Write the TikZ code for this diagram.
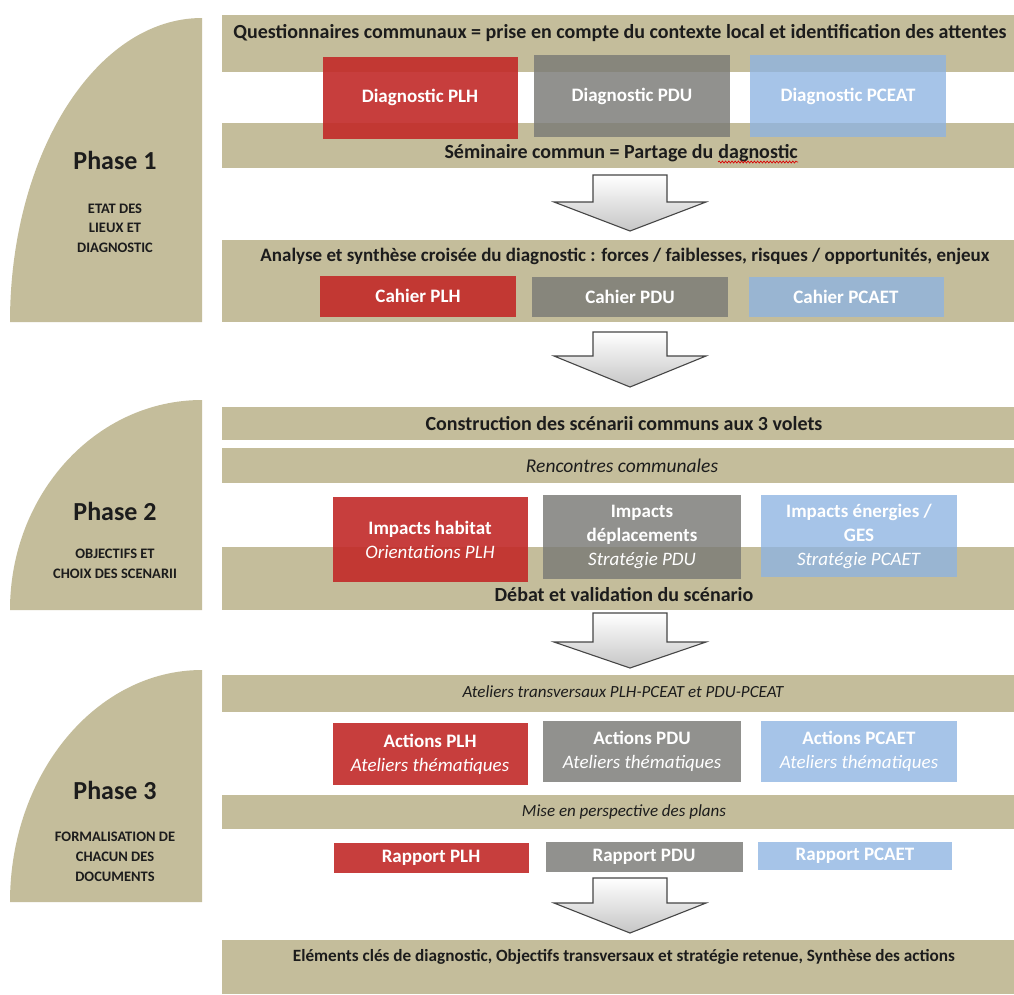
\documentclass[tikz,border=0pt]{standalone}
\usepackage{fontspec}
\setmainfont{Carlito}
\usetikzlibrary{decorations.pathmorphing}
\definecolor{beige}{RGB}{196,189,155}
\definecolor{boxred}{RGB}{194,42,40}
\definecolor{boxgray}{RGB}{122,122,118}
\definecolor{boxblue}{RGB}{141,180,226}
\definecolor{txt}{RGB}{28,28,28}
\definecolor{arrline}{RGB}{70,70,70}
\tikzset{
  band/.style={fill=beige, draw=none},
  phaseshape/.style={fill=beige, draw=none},
  phasetitle/.style={font=\bfseries\fontsize{26}{30}\selectfont, text=txt, inner sep=0pt},
  phasesub/.style={font=\bfseries\fontsize{14.5}{19.5}\selectfont, text=txt, align=center, inner sep=0pt},
  btxt/.style={font=\bfseries\fontsize{20}{24}\selectfont, text=txt, inner sep=0pt},
  bsmall/.style={font=\bfseries\fontsize{19}{22}\selectfont, text=txt, inner sep=0pt},
  bsmaller/.style={font=\bfseries\fontsize{17.2}{20}\selectfont, text=txt, inner sep=0pt},
  itxt/.style={font=\itshape\fontsize{19.5}{22}\selectfont, text=txt, inner sep=0pt},
  ismall/.style={font=\itshape\fontsize{17}{20}\selectfont, text=txt, inner sep=0pt},
  colbox/.style={draw=none, text=white, align=center, inner sep=0pt,
     font=\bfseries\fontsize{19}{24}\selectfont},
  redbox/.style={colbox, fill=boxred, fill opacity=0.9, text opacity=1},
  graybox/.style={colbox, fill=boxgray, fill opacity=0.82, text opacity=1},
  bluebox/.style={colbox, fill=boxblue, fill opacity=0.78, text opacity=1},
  blockarr/.style={top color=white, bottom color=gray!45, draw=arrline, line width=1.1pt, line join=miter},
}
\newcommand{\blockarrow}[3]{%
  \shade[blockarr] (593,#1) -- (667,#1) -- (667,#2) -- (706,#2) -- (630,#3) -- (554,#2) -- (593,#2) -- cycle;}
\begin{document}
\begin{tikzpicture}[x=1pt,y=-1pt]
\useasboundingbox (0,0) rectangle (1014,994);
\fill[white] (0,0) rectangle (1014,994);

% ---------------- Phase shapes
\fill[phaseshape] (10,322) arc[start angle=180, end angle=270, x radius=192, y radius=304] -- (202,322) -- cycle;
\fill[phaseshape] (10,610) arc[start angle=180, end angle=270, x radius=192, y radius=210] -- (202,610) -- cycle;
\fill[phaseshape] (10,902) arc[start angle=180, end angle=270, x radius=192, y radius=232] -- (202,902) -- cycle;

\node[phasetitle, anchor=base] (p1) at (115,169) {Phase 1};
\node[phasesub, anchor=base] (p1s) at (115,213) {ETAT DES};
\node[phasesub, anchor=base] (p1s2) at (115,232.5) {LIEUX ET};
\node[phasesub, anchor=base] (p1s3) at (115,252) {DIAGNOSTIC};
\node[phasetitle, anchor=base] (p2) at (115,520) {Phase 2};
\node[phasesub, anchor=base] (p2s) at (115,558) {OBJECTIFS ET};
\node[phasesub, anchor=base] (p2s2) at (115,578) {CHOIX DES SCENARII};
\node[phasetitle, anchor=base] (p3) at (115,799) {Phase 3};
\node[phasesub, anchor=base] (p3s) at (115,841) {FORMALISATION DE};
\node[phasesub, anchor=base] (p3s2) at (115,861) {CHACUN DES};
\node[phasesub, anchor=base] (p3s3) at (115,881) {DOCUMENTS};

% ---------------- Bands
\fill[band] (222,15) rectangle (1014,72);
\fill[band] (222,123) rectangle (1014,168);
\fill[band] (222,240) rectangle (1014,322);
\fill[band] (222,407) rectangle (1014,440);
\fill[band] (222,448) rectangle (1014,483);
\fill[band] (222,547) rectangle (1014,610);
\fill[band] (222,675) rectangle (1014,712);
\fill[band] (222,795) rectangle (1014,829);
\fill[band] (222,940) rectangle (1014,994);

% ---------------- Phase 1
\node[btxt] (quest) at (620,33) {Questionnaires communaux = prise en compte du contexte local et identification des attentes};
\node[redbox, minimum width=195pt, minimum height=82pt] (dplh) at (420,97.5) {Diagnostic PLH};
\node[graybox, minimum width=196pt, minimum height=82pt] (dpdu) at (632,96) {Diagnostic PDU};
\node[bluebox, minimum width=196pt, minimum height=82pt] (dpceat) at (848,96) {Diagnostic PCEAT};

\node[btxt, anchor=base east] (semR) at (798,158) {dagnostic};
\node[btxt, anchor=base east] (semL) at ([xshift=-4.6pt]semR.base west) {Séminaire commun = Partage du};
\draw[red!85!black, line width=0.7pt, decorate, decoration={snake, amplitude=1pt, segment length=3.2pt}]
  ([yshift=-4pt]semR.base west) -- ([yshift=-4pt]semR.base east);

\blockarrow{175}{202}{231}

\node[bsmall] (analyse) at (625,256) {Analyse et synthèse croisée du diagnostic : forces / faiblesses, risques / opportunités, enjeux};
\node[redbox, minimum width=196pt, minimum height=41pt] (cplh) at (418,296) {Cahier PLH};
\node[graybox, minimum width=196pt, minimum height=40pt] (cpdu) at (630,297) {Cahier PDU};
\node[bluebox, minimum width=195pt, minimum height=40pt] (cpcaet) at (846,297) {Cahier PCAET};

\blockarrow{332}{356}{387}

% ---------------- Phase 2
\node[btxt] (constr) at (624,424) {Construction des scénarii communs aux 3 volets};
\node[itxt] (renc) at (622,466) {Rencontres communales};
\node[redbox, minimum width=195pt, minimum height=85pt] (iplh) at (430,539.5) {Impacts habitat\\\textit{\mdseries Orientations PLH}};
\node[graybox, minimum width=198pt, minimum height=84pt] (ipdu) at (642,537) {Impacts\\déplacements\\\textit{\mdseries Stratégie PDU}};
\node[bluebox, minimum width=196pt, minimum height=82pt] (ipcaet) at (859,536) {Impacts énergies /\\GES\\\textit{\mdseries Stratégie PCAET}};
\node[btxt] (debat) at (624,595) {Débat et validation du scénario};

\blockarrow{613}{642}{668}

% ---------------- Phase 3
\node[ismall] (atel) at (623,692) {Ateliers transversaux PLH-PCEAT et PDU-PCEAT};
\node[redbox, minimum width=195pt, minimum height=62pt] (aplh) at (430,754) {Actions PLH\\\textit{\mdseries Ateliers thématiques}};
\node[graybox, minimum width=198pt, minimum height=61pt] (apdu) at (642,751.5) {Actions PDU\\\textit{\mdseries Ateliers thématiques}};
\node[bluebox, minimum width=196pt, minimum height=61pt] (apcaet) at (859,751.5) {Actions PCAET\\\textit{\mdseries Ateliers thématiques}};
\node[ismall] (mise) at (624,812) {Mise en perspective des plans};
\node[redbox, minimum width=195pt, minimum height=30pt] (rplh) at (431,858) {Rapport PLH};
\node[graybox, minimum width=197pt, minimum height=30pt] (rpdu) at (644,857) {Rapport PDU};
\node[bluebox, minimum width=194pt, minimum height=28pt] (rpcaet) at (855,856) {Rapport PCAET};

\blockarrow{878}{903}{933}

\node[bsmaller] (elem) at (624,957) {Eléments clés de diagnostic, Objectifs transversaux et stratégie retenue, Synthèse des actions};
\end{tikzpicture}
\end{document}
